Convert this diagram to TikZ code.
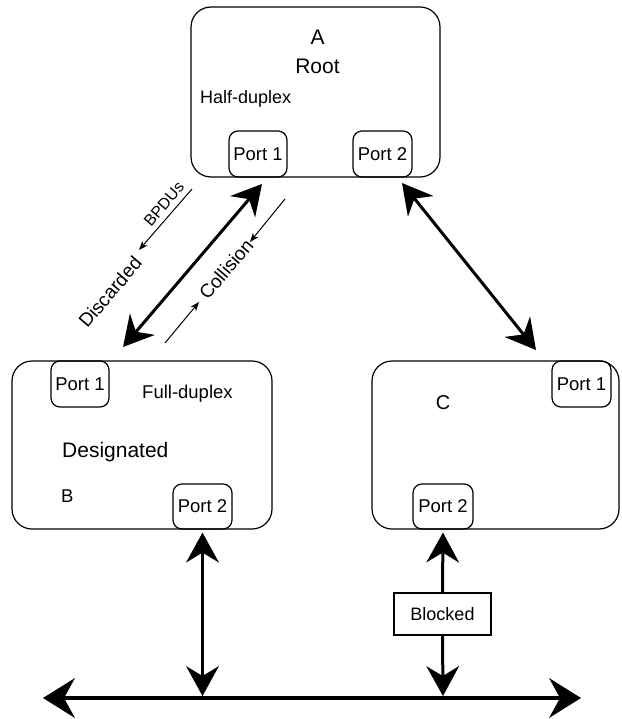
\documentclass[tikz,border=0pt]{standalone}
\usepackage{fontspec}
\setmainfont{Liberation Sans}
\usetikzlibrary{arrows.meta}
\begin{document}
\begin{tikzpicture}[x=1pt,y=-1pt,
  sw/.style={draw, line width=1.2pt, rounded corners=20pt, inner sep=0pt},
  port/.style={draw, line width=1.2pt, rounded corners=9pt, inner sep=0pt,
    minimum width=59pt, minimum height=46pt, font=\fontsize{18.5}{20}\selectfont},
  lbl/.style={inner sep=0pt, font=\fontsize{18.5}{20}\selectfont},
  biglbl/.style={inner sep=0pt, font=\fontsize{21}{24}\selectfont},
  rlbl/.style={inner sep=0pt, rotate=49.5, font=\fontsize{19}{21}\selectfont},
  dbl/.style={line width=3pt,
    arrows={Stealth[length=30pt,width=33pt,inset=10pt,line width=0pt]-Stealth[length=30pt,width=33pt,inset=10pt,line width=0pt]}},
  upone/.style={line width=3pt,
    arrows={Stealth[length=30pt,width=33pt,inset=10pt,line width=0pt]-}},
  downone/.style={line width=3pt,
    arrows={-Stealth[length=30pt,width=33pt,inset=10pt,line width=0pt]}},
  bus/.style={line width=4.5pt,
    arrows={Stealth[length=32pt,width=40pt,inset=11pt,line width=0pt]-Stealth[length=32pt,width=40pt,inset=11pt,line width=0pt]}},
  thin/.style={line width=1pt,
    arrows={-Stealth[length=9pt,width=7pt,inset=2.5pt,line width=0pt]}}
]
\useasboundingbox (0,0) rectangle (621,719);

% switches
\node[sw, minimum width=249pt, minimum height=170pt] (A) at (315.5,92) {};
\node[sw, minimum width=260pt, minimum height=168pt] (B) at (142,445) {};
\node[sw, minimum width=247pt, minimum height=168pt] (C) at (495.5,445) {};

% ports
\node[port, minimum width=58pt] (A1) at (258,154) {Port 1};
\node[port] (A2) at (382.5,154) {Port 2};
\node[port, minimum width=58pt] (B1) at (80,384) {Port 1};
\node[port, minimum height=45pt] (B2) at (202.5,506.5) {Port 2};
\node[port] (C1) at (581.5,384) {Port 1};
\node[port, minimum width=60pt, minimum height=45pt] (C2) at (443,506.5) {Port 2};

% texts
\node[biglbl, anchor=base] (tA) at (317.5,45) {A};
\node[biglbl, anchor=base] (tRoot) at (317.5,74) {Root};
\node[lbl, anchor=base west, font=\fontsize{18}{20}\selectfont] (tHalf) at (200,104) {Half-duplex};
\node[lbl, anchor=base west] (tFull) at (142,398) {Full-duplex};
\node[biglbl, anchor=base west] (tDes) at (62,457) {Designated};
\node[lbl, anchor=base west] (tB) at (61,502) {B};
\node[lbl, anchor=base, font=\fontsize{20}{22}\selectfont] (tC) at (443,409) {C};

% blocked box
\node[draw, line width=1.2pt, inner sep=0pt, minimum width=97pt, minimum height=42pt,
  font=\fontsize{18}{20}\selectfont] (Blk) at (442.5,614) {Blocked};

% coordinates
\coordinate (dA1) at (262,184);
\coordinate (dB) at (123,347);
\coordinate (dA2) at (402,183);
\coordinate (dC) at (536,350);
\coordinate (busL) at (43,698);
\coordinate (busR) at (581,698);
\coordinate (busB) at (202.5,696);
\coordinate (busC) at (443,696);
\coordinate (bp1) at (192,189);
\coordinate (bp2) at (139,250);
\coordinate (co1) at (285,199);
\coordinate (co2) at (250,242);
\coordinate (co3) at (165,343);
\coordinate (co4) at (199,302);

% connectors
\draw[dbl] (dA1) -- (dB);
\draw[dbl] (dA2) -- (dC);
\draw[bus] (busL) -- (busR);
\draw[dbl, shorten <=3pt] (B2.south) -- (busB);
\draw[upone, shorten <=3pt] (C2.south) -- (Blk.north);
\draw[downone] (Blk.south) -- (busC);

% thin arrows
\draw[thin] (bp1) -- (bp2);
\draw[thin] (co1) -- (co2);
\draw[thin] (co3) -- (co4);

% rotated labels
\node[rlbl, font=\fontsize{16}{18}\selectfont] (lBP) at (164,204) {BPDUs};
\node[rlbl] (lDis) at (110,292) {Discarded};
\node[rlbl] (lCol) at (226,269) {Collision};
\end{tikzpicture}
\end{document}
